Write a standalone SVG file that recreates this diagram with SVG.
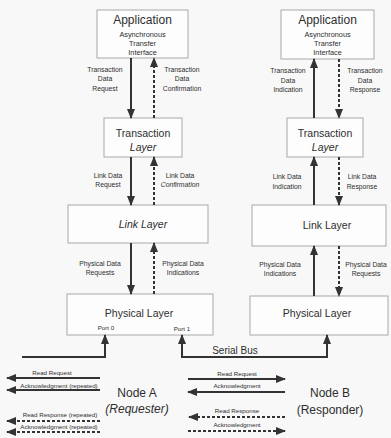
<svg xmlns="http://www.w3.org/2000/svg" width="391" height="438" viewBox="0 0 391 438">
<style>
text{font-family:"Liberation Sans",Arial,sans-serif;fill:#2e2e2e;text-anchor:middle}
.box{fill:#fdfdfd;stroke:#a8a8a8;stroke-width:1}
.t1{font-size:12px}
.t2{font-size:10.5px}
.sm{font-size:7.3px}
.lb{font-size:6.8px}
.xs{font-size:6.2px}
.nd{font-size:12px}
.it{font-style:italic}
.ln{fill:none;stroke:#333;stroke-width:2}
.ds{fill:none;stroke:#333;stroke-width:2;stroke-dasharray:3 2}
</style>
<defs>
<marker id="ah" viewBox="0 0 10 8" refX="9" refY="4" markerWidth="10" markerHeight="8" markerUnits="userSpaceOnUse" orient="auto-start-reverse"><path d="M0,0 L10,4 L0,8 z" fill="#333"/></marker>
</defs>
<rect width="391" height="438" fill="#f8f8f8"/>

<g id="appA"><rect class="box" x="97" y="10" width="91" height="48"/>
<text class="t1" x="142.5" y="24">Application</text>
<text class="sm" x="142.5" y="36.5">Asynchronous</text>
<text class="sm" x="142.5" y="45.5">Transfer</text>
<text class="sm" x="142.5" y="55">Interface</text></g>

<g id="appB"><rect class="box" x="281" y="10" width="93" height="49"/>
<text class="t1" x="327.5" y="24">Application</text>
<text class="sm" x="327.5" y="36.5">Asynchronous</text>
<text class="sm" x="327.5" y="45.5">Transfer</text>
<text class="sm" x="327.5" y="55">Interface</text></g>

<g id="transA"><rect class="box" x="104" y="118" width="78" height="39"/>
<text class="t2" x="143" y="137">Transaction</text>
<text class="t2 it" x="143" y="151">Layer</text></g>

<g id="transB"><rect class="box" x="287" y="118" width="76" height="39"/>
<text class="t2" x="325" y="137">Transaction</text>
<text class="t2 it" x="325" y="151">Layer</text></g>

<g id="linkA"><rect class="box" x="68" y="205" width="140" height="38"/>
<text class="t2 it" x="143" y="228">Link Layer</text></g>

<g id="linkB"><rect class="box" x="252" y="205" width="134" height="41"/>
<text class="t2" x="327" y="229">Link Layer</text></g>

<g id="physA"><rect class="box" x="67" y="294" width="146" height="41"/>
<text class="t2" x="139" y="317">Physical Layer</text>
<text class="xs" x="106" y="330">Port 0</text>
<text class="xs" x="182" y="331">Port 1</text></g>

<g id="physB"><rect class="box" x="250" y="296" width="138" height="39"/>
<text class="t2" x="317" y="317">Physical Layer</text></g>

<g id="nodeA"><text class="nd" x="137" y="397">Node A</text>
<text class="nd it" x="137" y="413">(Requester)</text></g>
<g id="nodeB"><text class="nd" x="330" y="397">Node B</text>
<text class="nd" x="330" y="414">(Responder)</text></g>

<g id="connectors">
<path class="ln" d="M131,58 V118" marker-end="url(#ah)"/>
<path class="ds" d="M154,118 V58" marker-end="url(#ah)"/>
<path class="ln" d="M131,157 V205" marker-end="url(#ah)"/>
<path class="ds" d="M154,205 V157" marker-end="url(#ah)"/>
<path class="ln" d="M131,243 V294" marker-end="url(#ah)"/>
<path class="ds" d="M154,294 V243" marker-end="url(#ah)"/>
<path class="ln" d="M314,118 V59" marker-end="url(#ah)"/>
<path class="ds" d="M339,59 V118" marker-end="url(#ah)"/>
<path class="ln" d="M314,205 V157" marker-end="url(#ah)"/>
<path class="ds" d="M339,157 V205" marker-end="url(#ah)"/>
<path class="ln" d="M314,296 V246" marker-end="url(#ah)"/>
<path class="ds" d="M339,246 V296" marker-end="url(#ah)"/>
<path class="ln" d="M22,357 H105 V335" marker-end="url(#ah)"/>
<path class="ln" d="M182,335 V357 H327 V335" marker-start="url(#ah)" marker-end="url(#ah)"/>
<text x="235" y="354" style="font-size:10px">Serial Bus</text>
<path class="ln" d="M100,378 H7" marker-end="url(#ah)"/>
<path class="ln" d="M100,390 H7" marker-end="url(#ah)"/>
<path class="ds" d="M100,421 H7" marker-end="url(#ah)"/>
<path class="ds" d="M100,432 H7" marker-end="url(#ah)"/>
<text class="xs" x="52" y="375">Read Request</text>
<text class="xs" x="59" y="388">Acknowledgment (repeated)</text>
<text class="xs" x="60" y="417">Read Response (repeated)</text>
<text class="xs" x="59" y="429">Acknowledgment (repeated)</text>
<path class="ln" d="M188,379 H285" marker-end="url(#ah)"/>
<path class="ln" d="M285,392 H188" marker-end="url(#ah)"/>
<path class="ds" d="M285,417 H189" marker-end="url(#ah)"/>
<path class="ds" d="M188,431 H285" marker-end="url(#ah)"/>
<text class="xs" x="237" y="376">Read Request</text>
<text class="xs" x="237" y="388">Acknowledgment</text>
<text class="xs" x="237" y="413">Read Response</text>
<text class="xs" x="237" y="427">Acknowledgment</text>
<text class="lb" x="105" y="71.5">Transaction</text>
<text class="lb" x="105" y="81">Data</text>
<text class="lb" x="105" y="90.5">Request</text>
<text class="lb" x="182" y="71.5">Transaction</text>
<text class="lb" x="182" y="81">Data</text>
<text class="lb" x="182" y="90.5">Confirmation</text>
<text class="lb" x="108" y="177.5">Link Data</text>
<text class="lb" x="108" y="187">Request</text>
<text class="lb" x="180" y="177.5">Link Data</text>
<text class="lb it" x="180" y="187">Confirmation</text>
<text class="lb" x="100" y="265.5">Physical Data</text>
<text class="lb" x="100" y="275">Requests</text>
<text class="lb" x="183" y="265.5">Physical Data</text>
<text class="lb" x="183" y="275">Indications</text>
<text class="lb" x="288" y="73">Transaction</text>
<text class="lb" x="288" y="82.5">Data</text>
<text class="lb" x="288" y="92">Indication</text>
<text class="lb" x="365" y="73">Transaction</text>
<text class="lb" x="365" y="82.5">Data</text>
<text class="lb" x="365" y="92">Response</text>
<text class="lb" x="287" y="179">Link Data</text>
<text class="lb" x="287" y="188.5">Indication</text>
<text class="lb" x="362" y="179">Link Data</text>
<text class="lb" x="362" y="188.5">Response</text>
<text class="lb" x="280" y="267">Physical Data</text>
<text class="lb" x="280" y="276">Indications</text>
<text class="lb" x="366" y="267">Physical Data</text>
<text class="lb" x="366" y="276">Requests</text>
</g>
</svg>
